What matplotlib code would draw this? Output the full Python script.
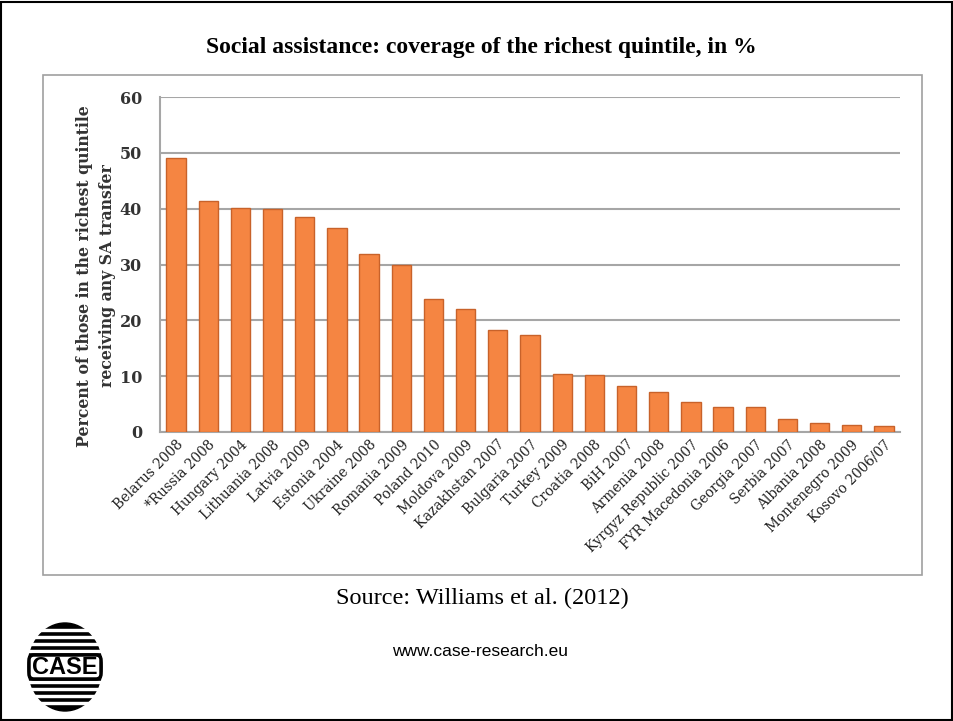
import matplotlib.pyplot as plt
import matplotlib.patches as mpatches
import numpy as np

countries = ['Belarus 2008', '*Russia 2008', 'Hungary 2004', 'Lithuania 2008', 'Latvia 2009',
             'Estonia 2004', 'Ukraine 2008', 'Romania 2009', 'Poland 2010', 'Moldova 2009',
             'Kazakhstan 2007', 'Bulgaria 2007', 'Turkey 2009', 'Croatia 2008', 'BiH 2007',
             'Armenia 2008', 'Kyrgyz Republic 2007', 'FYR Macedonia 2006', 'Georgia 2007',
             'Serbia 2007', 'Albania 2008', 'Montenegro 2009', 'Kosovo 2006/07']
coverage = [49.1, 41.4, 40.2, 39.9, 38.5, 36.6, 31.9, 29.9, 23.8, 22.0, 18.2, 17.4,
            10.4, 10.2, 8.3, 7.2, 5.4, 4.5, 4.5, 2.4, 1.7, 1.3, 1.1]
yticks = [0, 10, 20, 30, 40, 50, 60]

W, H = 954, 721
fig = plt.figure(figsize=(W / 100, H / 100), dpi=100)

# slide frame and chart box
fig.patches.append(mpatches.Rectangle((1 / W, 1 / H), 1 - 3 / W, 1 - 3 / H, transform=fig.transFigure,
                                      fill=False, edgecolor='black', linewidth=1.5))
fig.patches.append(mpatches.Rectangle((43 / W, 1 - 575 / H), 879 / W, 500 / H, transform=fig.transFigure,
                                      fill=False, edgecolor='#a0a0a0', linewidth=1.2))

fig.text(481 / W, 1 - 47 / H, 'Social assistance: coverage of the richest quintile, in %',
         ha='center', va='center', fontsize=17, fontweight='bold', family='Liberation Serif')

ax = fig.add_axes([160 / W, 1 - 432 / H, 740 / W, 335 / H])
x = np.arange(len(countries))
ax.bar(x, coverage, width=0.6, color='#f58542', edgecolor='#c8622a', linewidth=1, zorder=3)
ax.set_xlim(-0.5, len(countries) - 0.5)
ax.set_ylim(0, 60)
ax.set_yticks(yticks)
ax.set_yticklabels([str(v) for v in yticks], fontsize=11.5, fontweight='bold',
                   family='DejaVu Serif', color='#333333')
ax.set_xticks(x)
ax.set_xticklabels(countries, rotation=45, ha='right', rotation_mode='anchor',
                   fontsize=9.8, family='DejaVu Serif', color='#222222')
ax.tick_params(axis='both', length=0)
ax.tick_params(axis='y', pad=13)
ax.tick_params(axis='x', pad=4)
ax.grid(axis='y', color='#a6a6a6', linewidth=1.5, zorder=0)
for s in ['top', 'right']:
    ax.spines[s].set_visible(False)
ax.spines['left'].set_color('#a6a6a6')
ax.spines['left'].set_linewidth(1.5)
ax.spines['bottom'].set_color('#a6a6a6')
ax.spines['bottom'].set_linewidth(1.5)
ax.set_ylabel('Percent of those in the richest quintile\nreceiving any SA transfer',
              fontsize=11.3, fontweight='bold', family='DejaVu Serif', color='#333333',
              linespacing=1.45)
ax.yaxis.set_label_coords((116 - 160) / 740, (432 - 276) / 335)

fig.text(482 / W, 1 - 598 / H, 'Source: Williams et al. (2012)', ha='center', va='center',
         fontsize=17.5, family='Liberation Serif')
fig.text(480 / W, 1 - 651 / H, 'www.case-research.eu', ha='center', va='center',
         fontsize=12.5, family='Liberation Sans')

# CASE logo
lax = fig.add_axes([26 / W, 1 - 712 / H, 78 / W, 90 / H])
lax.set_xlim(0, 78)
lax.set_ylim(0, 90)
lax.axis('off')
lax.add_patch(mpatches.Ellipse((39, 45), 74, 88, color='black'))
for yy in [8, 15, 22, 29, 60, 67, 74, 81]:
    lax.add_patch(mpatches.Rectangle((0, yy), 78, 1.6, color='white'))
lax.add_patch(mpatches.FancyBboxPatch((3, 33), 72, 24, boxstyle='round,pad=0,rounding_size=5',
                                      facecolor='white', edgecolor='black', linewidth=2.5))
lax.text(39, 45, 'CASE', ha='center', va='center', fontsize=17, fontweight='bold',
         family='Liberation Sans')

fig.savefig('out.png', dpi=100)
